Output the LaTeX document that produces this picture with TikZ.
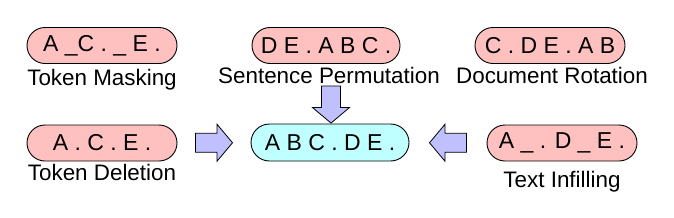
\documentclass[tikz,border=0pt]{standalone}
\usepackage{fontspec}
\setmainfont{Liberation Sans}
\usetikzlibrary{shapes.misc,calc}
\definecolor{pinkfill}{HTML}{FFC0C0}
\definecolor{cyanfill}{HTML}{C0FFFF}
\definecolor{arrowblue}{HTML}{C0C0FF}
\tikzset{
  pill/.style={rounded rectangle, draw=black, line width=0.9pt, fill=pinkfill,
    minimum width=150pt, minimum height=36pt, inner sep=0pt,
    font=\fontsize{23}{26}\selectfont},
  target/.style={pill, fill=cyanfill, minimum width=158pt, minimum height=37pt},
  caption/.style={anchor=base, inner sep=0pt, font=\fontsize{22.4}{26}\selectfont},
  blockarrow/.pic={\draw[fill=arrowblue, line width=0.8pt, line join=miter]
    (-18.5,-9.5) -- (3,-9.5) -- (3,-18.5) -- (18.5,0) -- (3,18.5) -- (3,9.5) -- (-18.5,9.5) -- cycle;}
}
\begin{document}
\begin{tikzpicture}[x=1pt,y=-1pt]
\useasboundingbox (0,0) rectangle (674,217);
% top row
\node[pill] (tm) at (102,45.5) {A \_C . \_ E .};
\node[caption] (tml) at (102,85) {Token Masking};
\node[pill, minimum width=148pt] (sp) at (326,45.5) {D E . A B C .};
\node[caption] (spl) at (329,83) {Sentence Permutation};
\node[pill] (dr) at (550,45.5) {C . D E . A B};
\node[caption] (drl) at (552,83) {Document Rotation};
% bottom row
\node[pill] (td) at (102,143) {A . C . E .};
\node[caption] (tdl) at (102,180) {Token Deletion};
\node[target] (c) at (330,142.5) {A B C . D E .};
\node[pill] (ti) at (562,143) {A \_ . D \_ E .};
\node[caption] (til) at (562,187) {Text Infilling};
% block arrows
\coordinate (a1) at ($(td.east)!0.5!(c.west)$);
\coordinate (a2) at ($(ti.west)!0.5!(c.east)$);
\coordinate (a3) at ([xshift=1pt,yshift=19pt]c.north);
\pic at (a1) {blockarrow};
\pic[rotate=180] at (a2) {blockarrow};
\pic[rotate=-90] at (a3) {blockarrow};
\end{tikzpicture}
\end{document}
